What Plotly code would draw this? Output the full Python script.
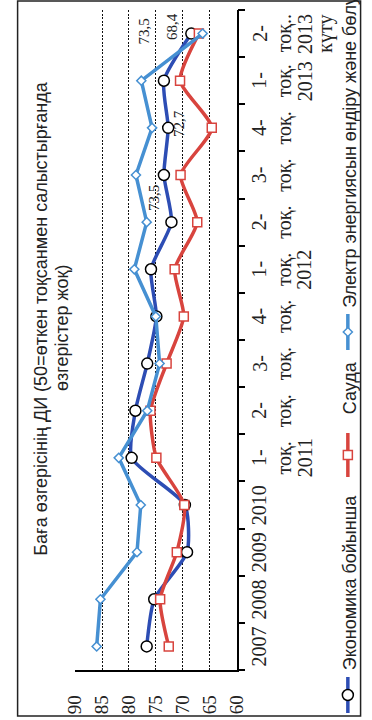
import plotly.graph_objects as go

# ---------------- data ----------------
periods = ["2007", "2008", "2009", "2010",
           "2011-1", "2011-2", "2011-3", "2011-4",
           "2012-1", "2012-2", "2012-3", "2012-4",
           "2013-1", "2013-2"]
tick_labels = ["2007", "2008", "2009", "2010",
               "1-<br>тоқ.<br>2011", "2-<br>тоқ.", "3-<br>тоқ.", "4-<br>тоқ.",
               "1-<br>тоқ.<br>2012", "2-<br>тоқ.", "3-<br>тоқ.", "4-<br>тоқ.",
               "1-<br>тоқ.<br>2013", "2-<br>тоқ..<br>2013<br>күту"]
economy = [76.7, 75.3, 69.2, 69.6, 79.5, 78.8, 76.6, 74.9, 75.9, 72.1, 73.5, 72.7, 73.5, 68.4]
trade = [72.6, 74.2, 71.1, 69.7, 74.9, 76.0, 73.0, 69.8, 71.5, 67.3, 70.4, 64.6, 70.5, 67.0]
electricity = [86.0, 85.3, 78.5, 77.8, 81.9, 76.6, 74.3, 75.0, 79.0, 76.7, 78.7, 75.7, 77.7, 66.3]
value_ticks = [90, 85, 80, 75, 70, 65, 60]
series_names = ["Экономика бойынша", "Сауда", "Электр энергиясын өндіру және бөлу"]
title_line1 = "Баға өзгерісінің ДИ (50=өткен тоқсанмен салыстырғанда"
title_line2 = "өзгерістер жоқ)"
labelled = {"2013-2": (-20, 7), "2013-1": (-20, 49), "2012-4": (11, 4), "2012-3": (-10, -23)}

# ---------------- style ----------------
W, H = 372, 720
PL, PR, PT, PB = 68, 239, 10, 670
C_ECO = "#2d4db4"
C_TRD = "#d8443e"
C_ELE = "#4690d2"
SERIF = "Liberation Serif, Times New Roman, serif"
SANS = "Liberation Sans, Arial, sans-serif"
LABEL_LINE_X = [263, 290, 311, 333]   # pixel x of each category-label line

fig = go.Figure()

fig.add_trace(go.Scatter(
    x=economy, y=periods, mode="lines+markers", name=series_names[0],
    line=dict(color=C_ECO, width=3.5, shape="spline", smoothing=0.6),
    marker=dict(symbol="circle", size=11, color="white", line=dict(color="black", width=1.5)),
    xaxis="x", yaxis="y", showlegend=False))
fig.add_trace(go.Scatter(
    x=trade, y=periods, mode="lines+markers", name=series_names[1],
    line=dict(color=C_TRD, width=3.5, shape="spline", smoothing=0.6),
    marker=dict(symbol="square", size=9, color="white", line=dict(color=C_TRD, width=1.5)),
    xaxis="x", yaxis="y", showlegend=False))
fig.add_trace(go.Scatter(
    x=electricity, y=periods, mode="lines+markers", name=series_names[2],
    line=dict(color=C_ELE, width=3.5),
    marker=dict(symbol="diamond", size=7, color="white", line=dict(color=C_ELE, width=1.5)),
    xaxis="x", yaxis="y", showlegend=False))

# legend samples (rotated legend drawn on a full-figure pixel axis)
leg_x = 357
leg_items = [  # (y-centre of symbol, half length, text bottom, colour, symbol, size, marker edge)
    (695, 18, 672, C_ECO, "circle", 11, "black"),
    (455, 22, 416, C_TRD, "square", 9, C_TRD),
    (332, 18, 310, C_ELE, "diamond", 7, C_ELE),
]
annotations = []
for (yc, hl, tb, col, sym, sz, mcol), nm in zip(leg_items, series_names):
    fig.add_trace(go.Scatter(
        x=[leg_x, leg_x], y=[yc - hl, yc + hl], mode="lines",
        line=dict(color=col, width=3.5), xaxis="x2", yaxis="y2",
        showlegend=False, hoverinfo="skip"))
    fig.add_trace(go.Scatter(
        x=[leg_x], y=[yc], mode="markers",
        marker=dict(symbol=sym, size=sz, color="white", line=dict(color=mcol, width=1.5)),
        xaxis="x2", yaxis="y2", showlegend=False, hoverinfo="skip"))
    annotations.append(dict(
        xref="x2", yref="y2", x=leg_x + 2, y=tb, text=nm, showarrow=False,
        textangle=-90, xanchor="center", yanchor="bottom",
        font=dict(family=SANS, size=18, color="#222")))

# title (two separately placed lines)
annotations.append(dict(
    xref="x2", yref="y2", x=31, y=558, text=title_line1, showarrow=False,
    textangle=-90, xanchor="center", yanchor="bottom",
    font=dict(family=SANS, size=18, color="#222")))
annotations.append(dict(
    xref="x2", yref="y2", x=54, y=393, text=title_line2, showarrow=False,
    textangle=-90, xanchor="center", yanchor="bottom",
    font=dict(family=SANS, size=18, color="#222")))

# category labels (rotated, one annotation per line, placed at the category's index)
for idx, lab in enumerate(tick_labels):
    for k, part in enumerate(lab.split("<br>")):
        annotations.append(dict(
            xref="x2", yref="y", x=LABEL_LINE_X[k], y=idx, text=part, showarrow=False,
            textangle=-90, xanchor="center", yanchor="middle",
            font=dict(family=SERIF, size=20, color="#222")))

# data labels
for p, (dx, dy) in labelled.items():
    i = periods.index(p)
    annotations.append(dict(
        xref="x", yref="y", x=economy[i], y=i,
        text=f"{economy[i]:.1f}".replace(".", ","), showarrow=False,
        textangle=-90, xshift=dx, yshift=dy,
        font=dict(family=SERIF, size=15, color="#222")))

fig.update_layout(
    width=W, height=H, margin=dict(l=0, r=0, t=0, b=0),
    paper_bgcolor="white", plot_bgcolor="rgba(0,0,0,0)",
    showlegend=False, annotations=annotations,
    xaxis=dict(
        domain=[PL / W, PR / W], range=[90, 60], anchor="y",
        tickvals=value_ticks, ticktext=[str(v) for v in value_ticks],
        tickangle=-90, tickfont=dict(family=SERIF, size=19, color="#222"),
        showgrid=True, gridcolor="#111", gridwidth=1.3, griddash="2px,1.5px",
        showline=True, linecolor="black", linewidth=1.5, ticks="",
        zeroline=False, ticklabelstandoff=16),
    yaxis=dict(
        domain=[(H - PB) / H, (H - PT) / H], anchor="x", side="right",
        type="category", categoryarray=periods, range=[-0.5, len(periods) - 0.5],
        showticklabels=False,
        showgrid=False, showline=True, linecolor="black", linewidth=1.5,
        ticks="outside", tickson="boundaries", ticklen=7, tickcolor="black", tickwidth=1.5,
        zeroline=False),
    yaxis3=dict(
        overlaying="y", anchor="x", side="right", range=[-0.5, len(periods) - 0.5],
        tickvals=[k - 0.5 for k in range(len(periods) + 1)], ticks="inside", ticklen=6,
        tickcolor="black", tickwidth=1.5, showticklabels=False, showgrid=False,
        showline=False, zeroline=False, visible=True),
    xaxis2=dict(domain=[0, 1], range=[0, W], anchor="y2", visible=False, fixedrange=True),
    yaxis2=dict(domain=[0, 1], range=[H, 0], anchor="x2", visible=False, fixedrange=True),
    shapes=[dict(type="rect", xref="x2", yref="y2", x0=7, x1=370.5, y0=1, y1=716,
                 line=dict(color="#222", width=1.5), fillcolor="rgba(0,0,0,0)", layer="below")],
)

fig.write_html("out.html")
